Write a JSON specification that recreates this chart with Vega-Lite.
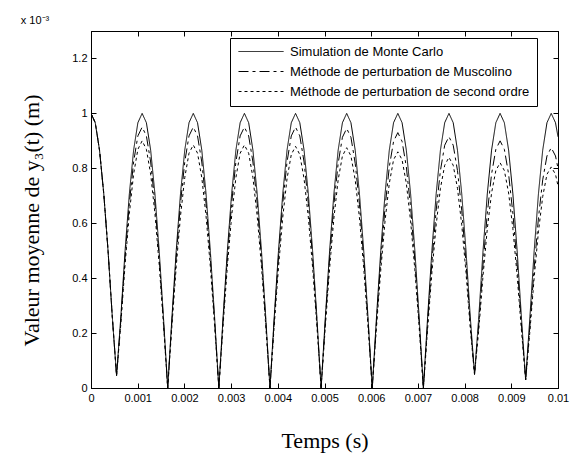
{
  "$schema": "https://vega.github.io/schema/vega-lite/v6.json",
  "width": 467,
  "height": 357,
  "autosize": {"type": "none"},
  "padding": {"left": 91, "top": 31, "right": 15, "bottom": 73},
  "background": "white",
  "title": {"text": "x 10⁻³", "anchor": "start", "fontSize": 11, "fontWeight": "normal", "font": "Liberation Sans", "offset": 5, "color": "black"},
  "config": {
    "view": {"stroke": "black", "strokeWidth": 1},
    "axis": {"grid": false, "domainColor": "black", "tickColor": "black", "labelColor": "black", "titleColor": "black", "labelFont": "Liberation Sans", "labelFontSize": 11, "titleFont": "Liberation Serif", "titleFontSize": 22, "titleFontWeight": "normal", "tickSize": -5, "labelPadding": 9}
  },
  "data": {"values": [
    {"t":0,"a":1,"b":1,"c":1},
    {"t":0.00009125,"a":0.966,"b":0.966,"c":0.966},
    {"t":0.0001825,"a":0.866,"b":0.866,"c":0.866},
    {"t":0.00027375,"a":0.707,"b":0.707,"c":0.707},
    {"t":0.000365,"a":0.5,"b":0.5,"c":0.5},
    {"t":0.00045625,"a":0.259,"b":0.259,"c":0.259},
    {"t":0.0005475,"a":0.045,"b":0.045,"c":0.045},
    {"t":0.00063875,"a":0.259,"b":0.246,"c":0.233},
    {"t":0.00073,"a":0.5,"b":0.475,"c":0.45},
    {"t":0.00082125,"a":0.707,"b":0.672,"c":0.636},
    {"t":0.0009125,"a":0.866,"b":0.823,"c":0.779},
    {"t":0.00100375,"a":0.966,"b":0.918,"c":0.869},
    {"t":0.001095,"a":1,"b":0.95,"c":0.9},
    {"t":0.00118625,"a":0.966,"b":0.918,"c":0.869},
    {"t":0.0012775,"a":0.866,"b":0.823,"c":0.779},
    {"t":0.00136875,"a":0.707,"b":0.672,"c":0.636},
    {"t":0.00146,"a":0.5,"b":0.475,"c":0.45},
    {"t":0.00155125,"a":0.259,"b":0.246,"c":0.233},
    {"t":0.0016425,"a":0,"b":0,"c":0},
    {"t":0.00173375,"a":0.259,"b":0.246,"c":0.229},
    {"t":0.001825,"a":0.5,"b":0.475,"c":0.443},
    {"t":0.00191625,"a":0.707,"b":0.672,"c":0.626},
    {"t":0.0020075,"a":0.866,"b":0.823,"c":0.766},
    {"t":0.00209875,"a":0.966,"b":0.918,"c":0.855},
    {"t":0.00219,"a":1,"b":0.95,"c":0.885},
    {"t":0.00228125,"a":0.966,"b":0.918,"c":0.855},
    {"t":0.0023725,"a":0.866,"b":0.823,"c":0.766},
    {"t":0.00246375,"a":0.707,"b":0.672,"c":0.626},
    {"t":0.002555,"a":0.5,"b":0.475,"c":0.443},
    {"t":0.00264625,"a":0.259,"b":0.246,"c":0.229},
    {"t":0.0027375,"a":0,"b":0,"c":0},
    {"t":0.00282875,"a":0.259,"b":0.246,"c":0.229},
    {"t":0.00292,"a":0.5,"b":0.475,"c":0.443},
    {"t":0.00301125,"a":0.707,"b":0.672,"c":0.626},
    {"t":0.0031025,"a":0.866,"b":0.823,"c":0.766},
    {"t":0.00319375,"a":0.966,"b":0.918,"c":0.855},
    {"t":0.003285,"a":1,"b":0.95,"c":0.885},
    {"t":0.00337625,"a":0.966,"b":0.918,"c":0.855},
    {"t":0.0034675,"a":0.866,"b":0.823,"c":0.766},
    {"t":0.00355875,"a":0.707,"b":0.672,"c":0.626},
    {"t":0.00365,"a":0.5,"b":0.475,"c":0.443},
    {"t":0.00374125,"a":0.259,"b":0.246,"c":0.229},
    {"t":0.0038325,"a":0,"b":0,"c":0},
    {"t":0.00392375,"a":0.259,"b":0.246,"c":0.228},
    {"t":0.004015,"a":0.5,"b":0.475,"c":0.44},
    {"t":0.00410625,"a":0.707,"b":0.672,"c":0.622},
    {"t":0.0041975,"a":0.866,"b":0.823,"c":0.762},
    {"t":0.00428875,"a":0.966,"b":0.918,"c":0.85},
    {"t":0.00438,"a":1,"b":0.95,"c":0.88},
    {"t":0.00447125,"a":0.966,"b":0.918,"c":0.85},
    {"t":0.0045625,"a":0.866,"b":0.823,"c":0.762},
    {"t":0.00465375,"a":0.707,"b":0.672,"c":0.622},
    {"t":0.004745,"a":0.5,"b":0.475,"c":0.44},
    {"t":0.00483625,"a":0.259,"b":0.246,"c":0.228},
    {"t":0.0049275,"a":0,"b":0,"c":0},
    {"t":0.00501875,"a":0.259,"b":0.245,"c":0.226},
    {"t":0.00511,"a":0.5,"b":0.473,"c":0.438},
    {"t":0.00520125,"a":0.707,"b":0.668,"c":0.619},
    {"t":0.0052925,"a":0.866,"b":0.818,"c":0.758},
    {"t":0.00538375,"a":0.966,"b":0.913,"c":0.845},
    {"t":0.005475,"a":1,"b":0.945,"c":0.875},
    {"t":0.00556625,"a":0.966,"b":0.913,"c":0.845},
    {"t":0.0056575,"a":0.866,"b":0.818,"c":0.758},
    {"t":0.00574875,"a":0.707,"b":0.668,"c":0.619},
    {"t":0.00584,"a":0.5,"b":0.473,"c":0.438},
    {"t":0.00593125,"a":0.259,"b":0.245,"c":0.226},
    {"t":0.0060225,"a":0,"b":0,"c":0},
    {"t":0.00611375,"a":0.259,"b":0.241,"c":0.223},
    {"t":0.006205,"a":0.5,"b":0.465,"c":0.43},
    {"t":0.00629625,"a":0.707,"b":0.658,"c":0.608},
    {"t":0.0063875,"a":0.866,"b":0.805,"c":0.745},
    {"t":0.00647875,"a":0.966,"b":0.898,"c":0.831},
    {"t":0.00657,"a":1,"b":0.93,"c":0.86},
    {"t":0.00666125,"a":0.966,"b":0.898,"c":0.831},
    {"t":0.0067525,"a":0.866,"b":0.805,"c":0.745},
    {"t":0.00684375,"a":0.707,"b":0.658,"c":0.608},
    {"t":0.006935,"a":0.5,"b":0.465,"c":0.43},
    {"t":0.00702625,"a":0.259,"b":0.241,"c":0.223},
    {"t":0.0071175,"a":0,"b":0,"c":0},
    {"t":0.00720875,"a":0.259,"b":0.237,"c":0.217},
    {"t":0.0073,"a":0.5,"b":0.458,"c":0.42},
    {"t":0.00739125,"a":0.707,"b":0.647,"c":0.594},
    {"t":0.0074825,"a":0.866,"b":0.792,"c":0.727},
    {"t":0.00757375,"a":0.966,"b":0.884,"c":0.811},
    {"t":0.007665,"a":1,"b":0.915,"c":0.84},
    {"t":0.00775625,"a":0.966,"b":0.884,"c":0.811},
    {"t":0.0078475,"a":0.866,"b":0.792,"c":0.727},
    {"t":0.00793875,"a":0.707,"b":0.647,"c":0.594},
    {"t":0.00803,"a":0.5,"b":0.458,"c":0.42},
    {"t":0.00812125,"a":0.259,"b":0.237,"c":0.217},
    {"t":0.0082125,"a":0.05,"b":0.05,"c":0.05},
    {"t":0.00830375,"a":0.259,"b":0.233,"c":0.212},
    {"t":0.008395,"a":0.5,"b":0.45,"c":0.41},
    {"t":0.00848625,"a":0.707,"b":0.636,"c":0.58},
    {"t":0.0085775,"a":0.866,"b":0.779,"c":0.71},
    {"t":0.00866875,"a":0.966,"b":0.869,"c":0.792},
    {"t":0.00876,"a":1,"b":0.9,"c":0.82},
    {"t":0.00885125,"a":0.966,"b":0.869,"c":0.792},
    {"t":0.0089425,"a":0.866,"b":0.779,"c":0.71},
    {"t":0.00903375,"a":0.707,"b":0.636,"c":0.58},
    {"t":0.009125,"a":0.5,"b":0.45,"c":0.41},
    {"t":0.00921625,"a":0.259,"b":0.233,"c":0.212},
    {"t":0.0093075,"a":0.03,"b":0.03,"c":0.03},
    {"t":0.00939875,"a":0.259,"b":0.226,"c":0.208},
    {"t":0.00949,"a":0.5,"b":0.438,"c":0.403},
    {"t":0.00958125,"a":0.707,"b":0.619,"c":0.569},
    {"t":0.0096725,"a":0.866,"b":0.758,"c":0.697},
    {"t":0.00976375,"a":0.966,"b":0.845,"c":0.778},
    {"t":0.009855,"a":1,"b":0.875,"c":0.805},
    {"t":0.00994625,"a":0.966,"b":0.845,"c":0.778},
    {"t":0.01,"a":0.915,"b":0.8,"c":0.736}
  ]},
  "transform": [{"fold": ["a", "b", "c"], "as": ["s", "v"]}],
  "layer": [
    {
      "mark": {"type": "line", "color": "black", "strokeWidth": 1, "clip": true},
      "encoding": {
        "x": {"field": "t", "type": "quantitative", "scale": {"domain": [0, 0.01], "nice": false, "zero": false},
              "axis": {"orient": "bottom", "values": [0,0.001,0.002,0.003,0.004,0.005,0.006,0.007,0.008,0.009,0.01], "format": "~g", "title": "Temps (s)", "titlePadding": 27, "labelFlush": false}},
        "y": {"field": "v", "type": "quantitative", "scale": {"domain": [0, 1.3], "nice": false},
              "axis": {"orient": "left", "values": [0,0.2,0.4,0.6,0.8,1,1.2], "format": "~g", "title": "Valeur moyenne de y₃(t) (m)", "titlePadding": 28, "titleY": 189}},
        "strokeDash": {"field": "s", "type": "nominal",
          "scale": {"domain": ["a", "b", "c"], "range": [[1, 0], [10, 4, 3, 4], [3, 3]]},
          "legend": {"title": null, "orient": "none", "legendX": 139, "legendY": 7,
            "symbolType": "M-1,0H8", "symbolSize": 100, "symbolStrokeColor": "black", "symbolStrokeWidth": 1,
            "labelFont": "Liberation Sans", "labelFontSize": 13, "labelColor": "black", "labelOffset": 40, "labelLimit": 400,
            "strokeColor": "black", "fillColor": "white", "padding": 7, "rowPadding": 6, "cornerRadius": 0,
            "labelExpr": "datum.label == 'a' ? 'Simulation de Monte Carlo' : datum.label == 'b' ? 'Méthode de perturbation de Muscolino' : 'Méthode de perturbation de second ordre'"}}
      }
    },
    {
      "mark": {"type": "line", "strokeOpacity": 0},
      "encoding": {
        "x": {"field": "t", "type": "quantitative", "axis": {"orient": "top", "values": [0,0.001,0.002,0.003,0.004,0.005,0.006,0.007,0.008,0.009,0.01], "labels": false, "title": null}},
        "y": {"field": "v", "type": "quantitative", "axis": {"orient": "right", "values": [0,0.2,0.4,0.6,0.8,1,1.2], "labels": false, "title": null}},
        "detail": {"field": "s", "type": "nominal"}
      }
    }
  ],
  "resolve": {"axis": {"x": "independent", "y": "independent"}}
}
